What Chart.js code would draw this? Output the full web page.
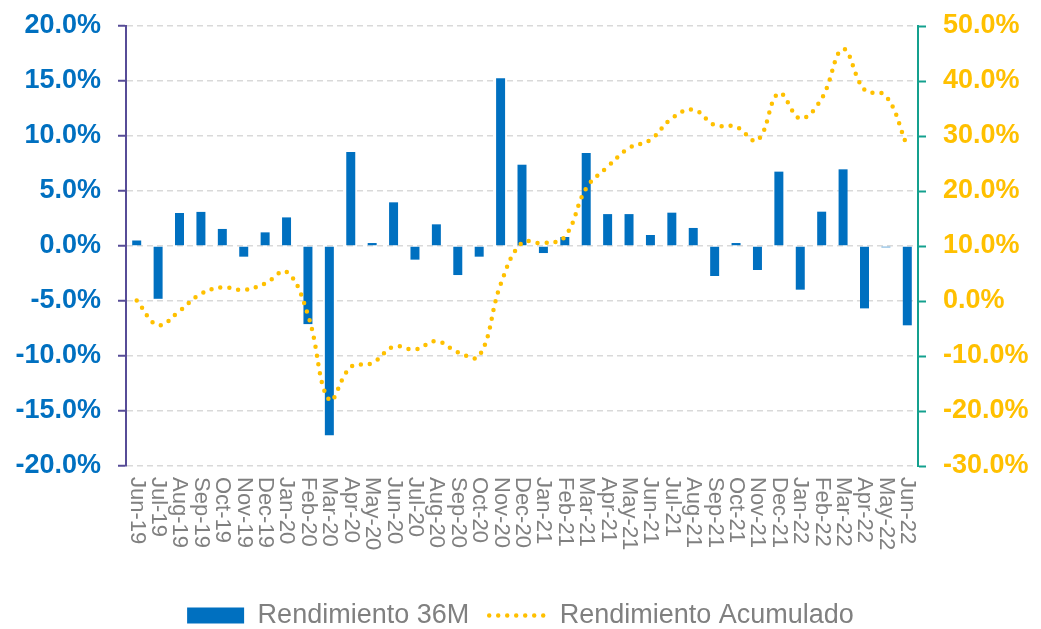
<!DOCTYPE html>
<html lang="es">
<head>
    <meta charset="UTF-8">
    <title>Rendimiento 36M</title>
    <style>
        body {
            margin: 0;
            background: #fff;
        }
        #chart-container {
            width: 1041px;
            height: 629px;
        }
    </style>
    <script src="https://cdn.jsdelivr.net/npm/chart.js"></script>
</head>
<body>
    <div id="chart-container">
        <canvas id="comboChart"></canvas>
    </div>

    <script>
        // categorias (meses)
        const meses = ['Jun-19', 'Jul-19', 'Aug-19', 'Sep-19', 'Oct-19', 'Nov-19', 'Dec-19',
            'Jan-20', 'Feb-20', 'Mar-20', 'Apr-20', 'May-20', 'Jun-20', 'Jul-20', 'Aug-20',
            'Sep-20', 'Oct-20', 'Nov-20', 'Dec-20', 'Jan-21', 'Feb-21', 'Mar-21', 'Apr-21',
            'May-21', 'Jun-21', 'Jul-21', 'Aug-21', 'Sep-21', 'Oct-21', 'Nov-21', 'Dec-21',
            'Jan-22', 'Feb-22', 'Mar-22', 'Apr-22', 'May-22', 'Jun-22'];

        // Rendimiento 36M (%), eje izquierdo
        const rendimiento36M = [0.5, -4.8, 3.0, 3.1, 1.55, -0.97, 1.24, 2.6, -7.1, -17.2,
            8.55, 0.27, 3.97, -1.24, 1.97, -2.64, -0.97, 15.24, 7.39, -0.64, 0.82, 8.45,
            2.9, 2.9, 1.0, 3.03, 1.64, -2.73, 0.27, -2.18, 6.76, -3.97, 3.12, 6.97,
            -5.67, -0.12, -7.21];

        // Rendimiento Acumulado (%), eje derecho
        const rendimientoAcumulado = [0.1, -4.4, -1.8, 1.3, 2.5, 2.0, 3.2, 5.3, -2.5, -18.0,
            -12.0, -11.3, -8.3, -8.8, -7.3, -9.3, -10.0, 3.0, 10.6, 10.5, 11.7, 20.5,
            24.4, 27.8, 29.3, 33.2, 34.8, 32.0, 31.7, 29.2, 37.8, 33.2, 36.8, 45.8,
            38.4, 37.3, 28.1];

        // rango de los ejes
        const ejeIzq = { min: -20, max: 20, paso: 5 };
        const ejeDer = { min: -30, max: 50, paso: 10 };

        const fuente = '"Liberation Sans", Arial, sans-serif';

        // etiquetas del eje X giradas 90 grados (lectura de arriba hacia abajo)
        const etiquetasX = {
            id: 'etiquetasX',
            afterDraw(chart) {
                const xs = chart.scales.x;
                const ctx = chart.ctx;
                ctx.save();
                ctx.font = '22px ' + fuente;
                ctx.fillStyle = '#808080';
                ctx.textAlign = 'left';
                ctx.textBaseline = 'middle';
                meses.forEach((m, i) => {
                    ctx.save();
                    ctx.translate(xs.getPixelForTick(i), xs.top + 11);
                    ctx.rotate(Math.PI / 2);
                    ctx.fillText(m, 0, 0);
                    ctx.restore();
                });
                ctx.restore();
            }
        };

        const ctx = document.getElementById('comboChart').getContext('2d');
        new Chart(ctx, {
            data: {
                labels: meses,
                datasets: [{
                    type: 'bar',
                    label: 'Rendimiento 36M',
                    data: rendimiento36M,
                    backgroundColor: '#0070C0',
                    borderWidth: 0,
                    barPercentage: 0.42,
                    categoryPercentage: 1,
                    yAxisID: 'y',
                    order: 1,
                    pointStyle: 'rect'
                }, {
                    type: 'line',
                    label: 'Rendimiento Acumulado',
                    data: rendimientoAcumulado,
                    borderColor: '#FFC000',
                    backgroundColor: '#FFC000',
                    borderWidth: 4.5,
                    borderDash: [0, 9],
                    borderCapStyle: 'round',
                    tension: 0.4,
                    pointRadius: 0,
                    fill: false,
                    yAxisID: 'y1',
                    order: 0,
                    pointStyle: 'line'
                }]
            },
            options: {
                responsive: true,
                maintainAspectRatio: false,
                animation: false,
                layout: {
                    padding: { top: 26, left: 0, right: 0, bottom: -10 }
                },
                scales: {
                    x: {
                        grid: { display: false },
                        border: { display: false },
                        ticks: { display: false },
                        afterFit(scale) { scale.height = 116; }
                    },
                    y: {
                        position: 'left',
                        min: ejeIzq.min,
                        max: ejeIzq.max,
                        ticks: {
                            stepSize: ejeIzq.paso,
                            padding: 17,
                            color: '#0070C0',
                            font: { family: fuente, size: 27, weight: 'bold', lineHeight: 0.6 },
                            callback: v => v.toFixed(1) + '%'
                        },
                        grid: {
                            color: '#d9d9d9',
                            lineWidth: 1.5,
                            tickLength: 8,
                            tickColor: '#574c97',
                            tickWidth: 2
                        },
                        border: { display: true, color: '#574c97', width: 2, dash: [6, 4] },
                        afterFit(scale) { scale.width = 126; }
                    },
                    y1: {
                        position: 'right',
                        min: ejeDer.min,
                        max: ejeDer.max,
                        ticks: {
                            stepSize: ejeDer.paso,
                            padding: 17,
                            color: '#FFC000',
                            font: { family: fuente, size: 27, weight: 'bold', lineHeight: 0.6 },
                            callback: v => v.toFixed(1) + '%'
                        },
                        grid: {
                            drawOnChartArea: false,
                            tickLength: 8,
                            tickColor: '#14a08e',
                            tickWidth: 2
                        },
                        border: { display: true, color: '#14a08e', width: 2 },
                        afterFit(scale) { scale.width = 123; }
                    }
                },
                plugins: {
                    legend: {
                        position: 'bottom',
                        labels: {
                            usePointStyle: true,
                            pointStyleWidth: 57,
                            boxHeight: 16,
                            padding: 20,
                            color: '#808080',
                            font: { family: fuente, size: 27 },
                            sort: (a, b) => a.datasetIndex - b.datasetIndex,
                            generateLabels(chart) {
                                const items = Chart.defaults.plugins.legend.labels.generateLabels(chart);
                                items.forEach(it => {
                                    const ds = chart.data.datasets[it.datasetIndex];
                                    if (ds.type === 'line') {
                                        it.lineDash = ds.borderDash;
                                        it.lineCap = 'round';
                                        it.lineWidth = ds.borderWidth;
                                    }
                                });
                                return items;
                            }
                        }
                    },
                    tooltip: { enabled: false }
                }
            },
            plugins: [etiquetasX]
        });
    </script>
</body>
</html>
